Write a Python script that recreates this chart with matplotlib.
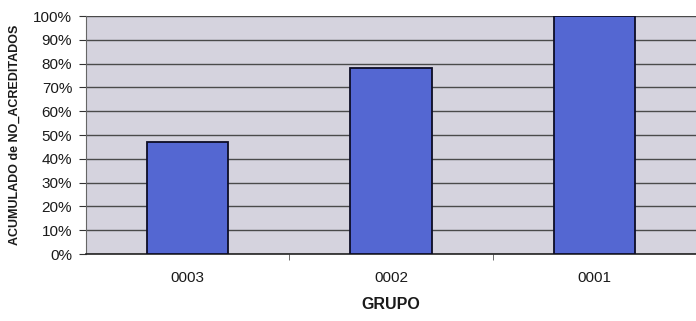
import matplotlib
matplotlib.use("Agg")
import matplotlib.pyplot as plt
from matplotlib.ticker import FixedLocator, PercentFormatter

grupos = ["0003", "0002", "0001"]
acumulado = [47.2, 78.0, 100.0]
y_ticks = list(range(0, 101, 10))

plt.rcParams["font.family"] = ["Liberation Sans", "DejaVu Sans"]

fig = plt.figure(figsize=(6.96, 3.21), dpi=100)
ax = fig.add_axes([0.1236, 0.2087, 0.8764, 0.7413])
ax.set_facecolor("#d5d3de")

x = list(range(len(grupos)))
ax.bar(x, acumulado, width=0.4, color="#5467d2", edgecolor="#0d0d26",
       linewidth=1.3, zorder=3)

ax.set_xlim(-0.5, len(grupos) - 0.5)
ax.set_ylim(0, 100)
ax.yaxis.set_major_locator(FixedLocator(y_ticks))
ax.yaxis.set_major_formatter(PercentFormatter(decimals=0))
ax.grid(axis="y", color="#4a4a4a", linewidth=1.0, zorder=1)

ax.set_xticks(x)
ax.set_xticklabels(grupos)
ax.xaxis.set_minor_locator(FixedLocator([0.5, 1.5]))
ax.tick_params(axis="x", which="major", length=0, pad=12, labelsize=11,
               labelcolor="#1a1a1a")
ax.tick_params(axis="x", which="minor", length=4, color="#555555")
ax.tick_params(axis="y", length=5, color="#333333", labelsize=11, pad=5,
               labelcolor="#1a1a1a")

for side in ("top", "right"):
    ax.spines[side].set_visible(False)
ax.spines["left"].set_color("#666666")
ax.spines["bottom"].set_color("#222222")
ax.spines["bottom"].set_linewidth(1.2)

ax.set_xlabel("GRUPO", fontsize=11.5, fontweight="bold", labelpad=9,
              color="#1a1a1a")
ax.set_ylabel("ACUMULADO de NO_ACREDITADOS", fontsize=9, fontweight="bold",
              labelpad=9, color="#1a1a1a")

fig.savefig("out.png", dpi=100)
